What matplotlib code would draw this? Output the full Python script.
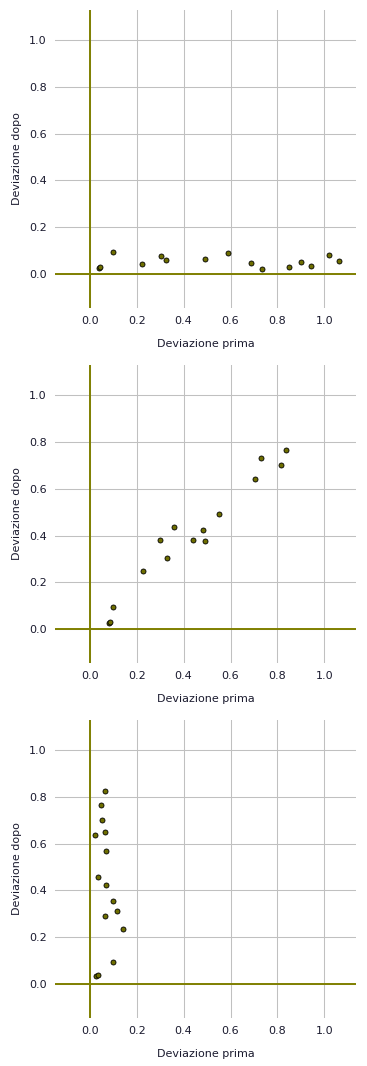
import matplotlib
matplotlib.use("Agg")
import matplotlib.pyplot as plt
import numpy as np

# Deviazione prima / dopo for the three panels
prima_1 = [0.040, 0.045, 0.101, 0.224, 0.305, 0.327, 0.493, 0.591, 0.689, 0.736, 0.851, 0.902, 0.945, 1.021, 1.064]
dopo_1 = [0.024, 0.029, 0.093, 0.041, 0.076, 0.058, 0.063, 0.088, 0.046, 0.020, 0.029, 0.050, 0.033, 0.080, 0.054]

prima_2 = [0.080, 0.085, 0.101, 0.229, 0.301, 0.331, 0.361, 0.438, 0.484, 0.493, 0.553, 0.706, 0.732, 0.817, 0.838]
dopo_2 = [0.024, 0.029, 0.093, 0.247, 0.379, 0.302, 0.435, 0.379, 0.422, 0.375, 0.491, 0.641, 0.730, 0.700, 0.765]

prima_3 = [0.028, 0.034, 0.101, 0.143, 0.067, 0.118, 0.097, 0.071, 0.037, 0.071, 0.024, 0.063, 0.054, 0.050, 0.067]
dopo_3 = [0.033, 0.037, 0.093, 0.234, 0.290, 0.311, 0.354, 0.422, 0.456, 0.568, 0.636, 0.649, 0.700, 0.765, 0.825]

ticks = [0.0, 0.2, 0.4, 0.6, 0.8, 1.0]
tick_labels = ["0.0", "0.2", "0.4", "0.6", "0.8", "1.0"]

olive = "#808000"
text_col = "#1a1a2e"

fig = plt.figure(figsize=(3.67, 10.66), dpi=100)

# axes boxes (left, bottom, width, height) in figure fraction
boxes = [
    [0.150, 0.7111, 0.820, 0.2795],
    [0.150, 0.3780, 0.820, 0.2796],
    [0.150, 0.0450, 0.820, 0.2796],
]
data = [(prima_1, dopo_1), (prima_2, dopo_2), (prima_3, dopo_3)]

for box, (xs, ys) in zip(boxes, data):
    ax = fig.add_axes(box)
    ax.set_xlim(-0.148, 1.135)
    ax.set_ylim(-0.146, 1.13)
    for s in ax.spines.values():
        s.set_visible(False)
    ax.grid(True, color="#c0c0c0", linewidth=0.75)
    ax.set_axisbelow(True)
    ax.axhline(0, color=olive, linewidth=1.4, zorder=2)
    ax.axvline(0, color=olive, linewidth=1.4, zorder=2)
    ax.scatter(xs, ys, s=13, c="#6e6e00", edgecolors="black", linewidths=0.6, zorder=3)
    ax.set_xticks(ticks)
    ax.set_xticklabels(tick_labels)
    ax.set_yticks(ticks)
    ax.set_yticklabels(tick_labels)
    ax.tick_params(length=0, labelsize=8, labelcolor=text_col, pad=6)
    ax.set_xlabel("Deviazione prima", fontsize=8, color=text_col, labelpad=9)
    ax.set_ylabel("Deviazione dopo", fontsize=8, color=text_col, labelpad=5)

fig.savefig("out.png", dpi=100)
